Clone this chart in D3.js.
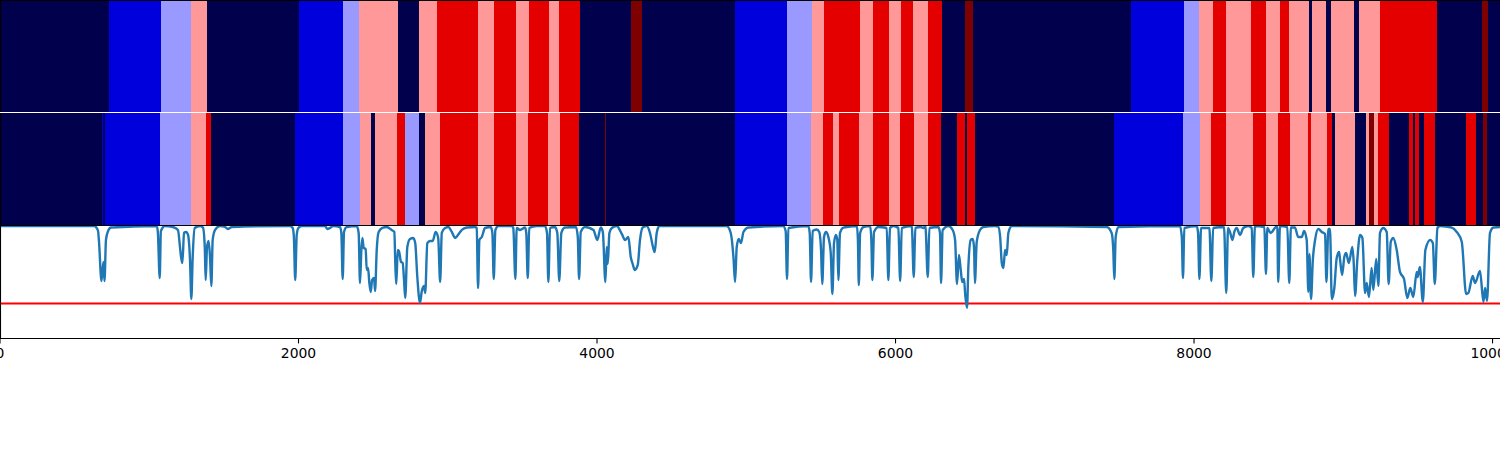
<!DOCTYPE html>
<html>
<head>
<meta charset="utf-8">
<script src="https://cdnjs.cloudflare.com/ajax/libs/d3/7.8.5/d3.min.js"></script>
<style>
html,body{margin:0;padding:0;background:#fff;overflow:hidden}
svg{display:block}
text{font-family:"DejaVu Sans",sans-serif}
</style>
</head>
<body>
<svg id="chart" width="1500" height="450"></svg>
<script>
const classColors = ["#00004c","#0000dd","#9999ff","#ff9999","#e50000","#7f0000"];
const xTicks = [0,2000,4000,6000,8000,10000];
const xMax = 10050;
const threshold = 0.3;

// Segment edges (start of each segment) and the class of each segment
const topStarts = [0,730,1078,1280,1387,2004,2298,2406,2666,2807,2929,3203,3310,3457,3544,3679,3745,3887,4228,4301,4925,5273,5440,5521,5762,5850,5957,6037,6117,6218,6311,6465,6519,7577,7933,8033,8127,8214,8382,8482,8576,8636,8771,8791,8885,8918,9072,9105,9246,9628,9930,9967];
const topClasses = [0,1,2,3,0,1,2,3,0,3,4,3,4,3,4,3,4,0,5,0,1,2,3,4,3,4,3,4,3,4,0,5,0,1,2,3,4,3,4,3,4,3,0,3,0,3,0,3,4,0,5,0];
const midStarts = [0,683,690,703,1072,1280,1380,1414,1976,2298,2412,2486,2513,2660,2713,2807,2847,2948,3203,3310,3457,3538,3671,3752,3880,4054,4058,4925,5273,5433,5514,5581,5621,5755,5850,5957,6030,6124,6218,6305,6412,6465,6479,6532,7464,7927,8040,8114,8214,8395,8482,8562,8643,8764,8784,8891,8925,8945,9079,9152,9172,9206,9232,9306,9440,9467,9480,9507,9540,9614,9822,9889,9936,9963];
const midClasses = [0,1,0,1,2,3,4,0,1,2,3,0,3,4,2,0,3,4,3,4,3,4,3,4,0,5,0,1,2,3,4,3,4,3,4,3,4,3,4,0,4,0,4,0,1,2,3,4,3,4,3,4,3,4,3,4,0,3,0,3,5,3,4,0,4,0,4,0,4,0,4,0,5,0];

const seriesX = [
0,636,643,657,663,680,693,700,710,724,
744,1051,1058,1070,1078,1105,1159,1192,1206,1213,
1222,1233,1247,1260,1273,1282,1291,1305,1340,1360,
1372,1378,1387,1398,1407,1416,1425,1441,1474,1508,
1526,1553,1943,1961,1969,1978,1988,1999,2021,2178,
2193,2211,2231,2278,2287,2296,2305,2323,2390,2403,
2412,2421,2428,2437,2450,2457,2466,2474,2484,2493,
2506,2513,2524,2537,2566,2591,2624,2642,2649,2655,
2665,2673,2687,2698,2707,2715,2729,2747,2769,2782,
2796,2814,2825,2841,2849,2863,2881,2899,2919,2936,
2949,2960,2982,3004,3027,3049,3078,3094,3127,3183,
3194,3203,3212,3228,3250,3288,3299,3308,3319,3339,
3428,3439,3453,3462,3484,3518,3526,3536,3546,3596,
3651,3665,3674,3685,3718,3734,3747,3761,3785,3859,
3871,3880,3891,3920,3976,4002,4025,4039,4056,4065,
4072,4083,4099,4132,4166,4188,4210,4226,4239,4253,
4273,4288,4306,4333,4355,4375,4386,4400,4417,4869,
4896,4914,4925,4936,4950,4965,4981,5014,5247,5264,
5273,5282,5416,5425,5434,5445,5472,5489,5501,5509,
5521,5534,5550,5566,5577,5588,5601,5610,5617,5628,
5651,5741,5748,5754,5763,5785,5830,5838,5845,5856,
5885,5941,5952,5963,5986,6019,6031,6042,6109,6122,
6133,6169,6187,6200,6216,6227,6287,6298,6305,6316,
6354,6383,6399,6412,6425,6437,6447,6459,6467,6479,
6488,6504,6517,6526,6532,6544,6566,6588,6666,6688,
6701,6712,6723,6734,6745,6756,6779,7415,7448,7459,
7466,7475,7493,7906,7918,7926,7935,8018,8027,8036,
8047,8103,8116,8128,8201,8216,8228,8241,8257,8270,
8286,8308,8330,8364,8386,8397,8408,8471,8482,8491,
8513,8542,8558,8564,8576,8625,8638,8649,8676,8698,
8722,8737,8755,8766,8773,8784,8796,8811,8833,8856,
8878,8887,8900,8911,8923,8940,8956,8972,8978,8992,
9007,9019,9037,9061,9070,9079,9094,9112,9128,9146,
9157,9172,9190,9201,9221,9235,9246,9268,9291,9304,
9318,9335,9358,9380,9407,9429,9449,9469,9492,9498,
9513,9533,9550,9582,9600,9613,9631,9649,9727,9760,
9794,9823,9838,9867,9883,9916,9939,9950,9963,9983,
10006,10050];
const seriesY = [
1,1,.991,.955,.865,.503,.675,.503,.874,.955,
.986,1,.937,.53,.955,1,.991,.964,.81,.72,
.666,.937,.946,.919,.693,.341,.72,.982,1,.986,
.81,.512,.81,.865,.72,.458,.874,.964,1,.991,
.973,.991,1,.982,.901,.512,.919,.982,1,1,
.973,.982,1,.991,.937,.521,.946,.991,1,.937,
.485,.783,.892,.801,.792,.603,.621,.494,.404,.512,
.53,.413,.783,.946,.986,.991,.964,.946,.639,.476,
.783,.774,.675,.666,.512,.35,.81,.883,.892,.846,
.539,.305,.404,.458,.395,.846,.865,.865,.946,.892,
.494,.937,.982,.991,.946,.892,.937,.964,.986,.991,
.982,.44,.874,.901,.982,.991,.937,.521,.964,1,
1,.982,.521,.982,.964,.986,.937,.53,.982,1,
1,.937,.494,.982,.991,.937,.503,.937,.986,.991,
.901,.521,.946,.991,.964,.874,.986,.946,.494,.81,
.657,.937,.982,1,.928,.874,.901,.72,.657,.603,
.648,.874,.986,1,.937,.81,.765,.937,1,1,
.937,.72,.494,.81,.883,.846,.946,.986,1,.955,
.521,.982,1,.937,.494,.955,.968,.946,.783,.476,
.901,.946,.901,.756,.386,.846,.919,.874,.512,.937,
.986,1,.874,.467,.937,.991,1,.874,.512,.946,
.991,.982,.512,.982,1,.982,.503,.982,1,.539,
.982,.991,.982,1,.539,.982,.991,.937,.485,.964,
1,.964,.874,.476,.738,.603,.494,.521,.377,.26,
.63,.874,.883,.81,.485,.856,.964,.991,1,.994,
.901,.666,.621,.783,.738,.937,1,.991,.937,.783,
.521,.901,.991,1,.901,.53,.982,1,.937,.521,
.982,.982,.503,.982,.991,.395,.982,.946,.874,.946,
.982,.919,.982,1,.982,.539,1,.991,.567,.982,
.937,.982,1,.494,1,.991,.485,.986,.986,.901,
.901,.955,.874,.404,.747,.341,.693,.874,.973,.946,
.928,.494,.973,.973,.341,.44,.711,.765,.702,.558,
.72,.756,.666,.81,.666,.368,.693,.919,.892,.395,
.485,.359,.621,.422,.702,.458,.937,.982,.946,.476,
.856,.892,.783,.585,.521,.35,.44,.359,.585,.539,
.63,.314,.783,.874,.846,.476,.982,1,.986,.946,
.856,.386,.395,.548,.485,.594,.314,.44,.323,.937,
.986,.991];

const svg = d3.select("#chart");
const x = d3.scaleLinear().domain([0, xMax]).range([0, 1500]);
const y = d3.scaleLinear().domain([0, 1]).range([336.7, 226]);
const color = d3.scaleOrdinal().domain(d3.range(classColors.length)).range(classColors);

function band(starts, classes, y0, h) {
  const segs = starts.map((s, i) => ({s, e: i + 1 < starts.length ? starts[i + 1] : xMax, c: classes[i]}));
  svg.append("g").attr("shape-rendering", "crispEdges").selectAll("rect").data(segs).join("rect")
    .attr("x", d => x(d.s)).attr("width", d => Math.max(0.5, x(d.e) - x(d.s)))
    .attr("y", y0).attr("height", h).attr("fill", d => color(d.c));
}
band(topStarts, topClasses, 0, 112);
band(midStarts, midClasses, 113, 112.5);

svg.append("clipPath").attr("id", "panel").append("rect").attr("x", 0).attr("y", 226).attr("width", 1500).attr("height", 112);

svg.append("line").attr("x1", 0).attr("x2", 1500).attr("y1", y(threshold)).attr("y2", y(threshold))
  .attr("stroke", "#ff0000").attr("stroke-width", 2.2);

const line = d3.line().x(d => x(d[0])).y(d => y(d[1])).curve(d3.curveMonotoneX);
svg.append("path").datum(d3.zip(seriesX, seriesY)).attr("d", line)
  .attr("fill", "none").attr("stroke", "#1f77b4").attr("stroke-width", 2.4)
  .attr("stroke-linejoin", "round").attr("clip-path", "url(#panel)");

// Spines
const spine = svg.append("g").attr("stroke", "#000").attr("stroke-width", 1.1).attr("fill", "none");
spine.append("line").attr("x1", 0).attr("x2", 1500).attr("y1", 0.5).attr("y2", 0.5);
spine.append("line").attr("x1", 0).attr("x2", 1500).attr("y1", 225.5).attr("y2", 225.5);
spine.append("line").attr("x1", 0.5).attr("x2", 0.5).attr("y1", 0).attr("y2", 112);
spine.append("line").attr("x1", 0.5).attr("x2", 0.5).attr("y1", 113).attr("y2", 338);

const axis = d3.axisBottom(x).tickValues(xTicks).tickSize(4.9).tickPadding(4.9).offset(0).tickFormat(d3.format("d"));
const g = svg.append("g").attr("transform", "translate(0,338.5)").call(axis);
g.select(".domain").attr("stroke", "#000").attr("stroke-width", 1.1).attr("d", "M0,0H1500");
g.selectAll(".tick line").attr("stroke", "#000").attr("stroke-width", 1.1);
g.selectAll(".tick text").attr("fill", "#000").attr("font-size", 13.9).attr("font-family", "DejaVu Sans");
</script>
</body>
</html>
